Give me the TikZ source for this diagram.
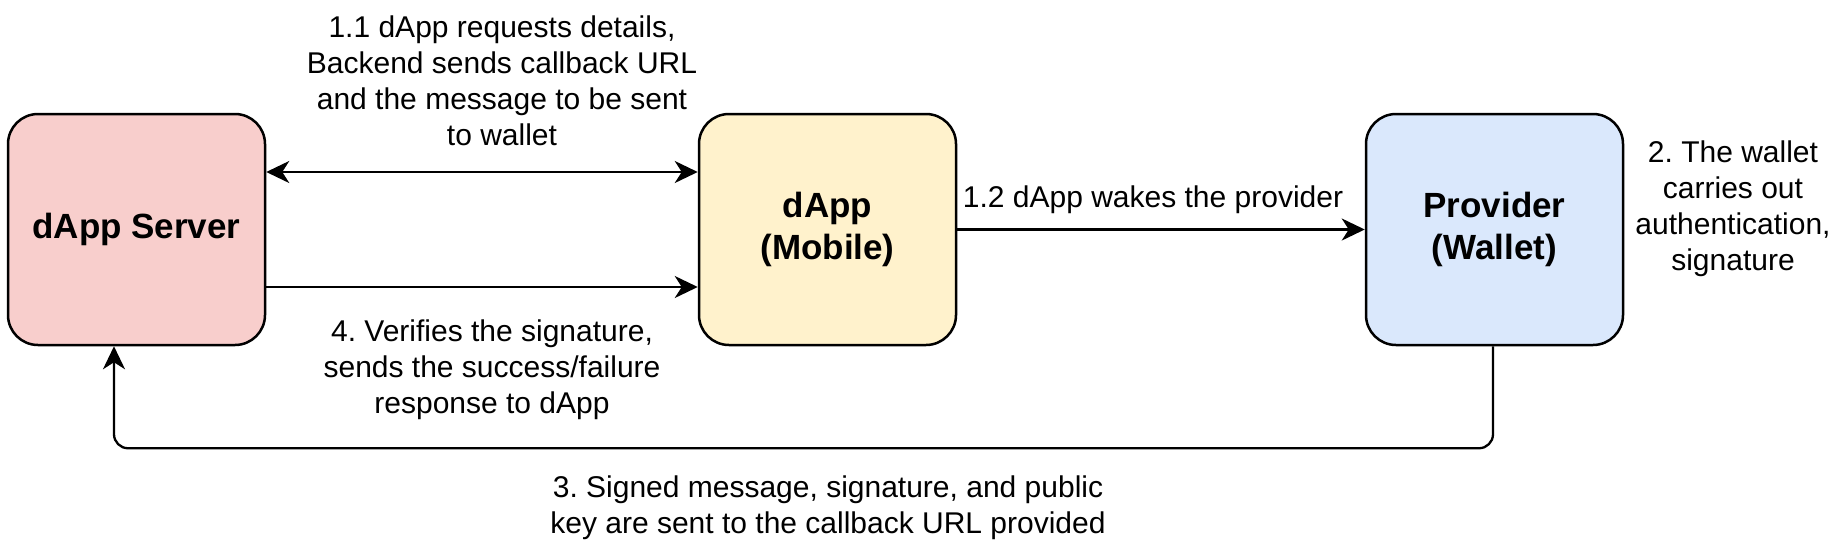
\documentclass[tikz,border=0pt]{standalone}
\usepackage{fontspec}
\setmainfont{Liberation Sans}
\usetikzlibrary{arrows.meta}
\definecolor{srvfill}{HTML}{F8CECC}
\definecolor{appfill}{HTML}{FFF2CC}
\definecolor{provfill}{HTML}{DAE8FC}
\frenchspacing
\begin{document}
\begin{tikzpicture}[x=1pt,y=-1pt,
    >={Stealth[length=23pt,width=22pt,inset=7pt]},
    party/.style={draw=black,line width=2.5pt,rounded corners=30pt,minimum width=257pt,minimum height=231pt,
        align=center,inner sep=0pt,font=\fontsize{35}{42}\selectfont\bfseries},
    note/.style={align=center,inner sep=0pt,font=\fontsize{30}{36}\selectfont},
    arr/.style={line width=2.3pt,->}]
        \useasboundingbox (0,0) rectangle (1839,547);
        \node[party,fill=srvfill] (srv) at (136.5,229.5) {dApp Server};
        \node[party,fill=appfill] (app) at (827.5,229.5) {dApp\\(Mobile)};
        \node[party,fill=provfill] (prov) at (1494.5,229.5) {Provider\\(Wallet)};
        \draw[arr,<->] ([yshift=57.5pt]srv.east) -- ([yshift=57.5pt]app.west);
        \draw[arr] ([yshift=-57.5pt]srv.east) -- ([yshift=-57.5pt]app.west);
        \draw[arr] (app.east) -- (prov.west);
        \draw[arr,rounded corners=14pt] ([xshift=-1.5pt]prov.south) -- ++(0,102) -| ([xshift=-22.5pt]srv.south);
        \node[note] (l11) at (502,81) {1.1 dApp requests details,\\Backend sends callback URL\\and the message to be sent\\to wallet};
        \node[note,anchor=base] (l12) at (1153,207) {1.2 dApp wakes the provider};
        \node[note] (l2) at (1733,208.5) {2. The wallet\\carries out\\authentication,\\signature};
        \node[note] (l4) at (492,370) {4. Verifies the signature,\\sends the success/failure\\response to dApp};
        \node[note] (l3) at (828,508) {3. Signed message, signature, and public\\key are sent to the callback URL provided};
    \end{tikzpicture}
\end{document}
